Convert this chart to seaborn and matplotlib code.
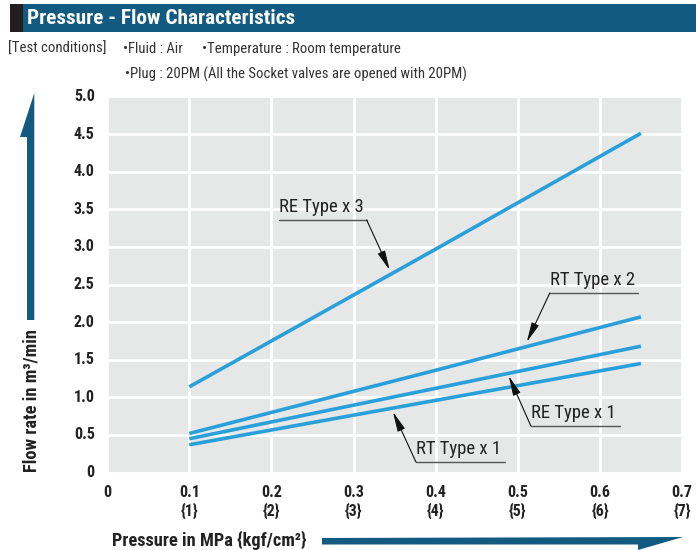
import matplotlib
matplotlib.use("Agg")
import matplotlib.pyplot as plt
from matplotlib.patches import Rectangle, Polygon
from matplotlib import font_manager as fm
import seaborn as sns
import pandas as pd

# ---- data ----
pressure = [0.1, 0.4, 0.65]
re_x3 = [1.14, 2.97, 4.51]
rt_x2 = [0.52, 1.36, 2.07]
re_x1 = [0.45, 1.12, 1.68]
rt_x1 = [0.37, 0.96, 1.45]
series_names = ["RE Type x 3", "RT Type x 2", "RE Type x 1", "RT Type x 1"]
series_values = [re_x3, rt_x2, re_x1, rt_x1]
x_ticks = [0, 0.1, 0.2, 0.3, 0.4, 0.5, 0.6, 0.7]
x_tick_labels = ["0", "0.1\n{1}", "0.2\n{2}", "0.3\n{3}", "0.4\n{4}", "0.5\n{5}", "0.6\n{6}", "0.7\n{7}"]
y_ticks = [0, 0.5, 1.0, 1.5, 2.0, 2.5, 3.0, 3.5, 4.0, 4.5, 5.0]
y_tick_labels = ["0", "0.5", "1.0", "1.5", "2.0", "2.5", "3.0", "3.5", "4.0", "4.5", "5.0"]

rows = []
for name, vals in zip(series_names, series_values):
    for x, y in zip(pressure, vals):
        rows.append({"Pressure": x, "Flow": y, "Series": name})
df = pd.DataFrame(rows)

sns.set_theme(style="white")

# pick a condensed font if one is installed
entries = fm.fontManager.ttflist
names = {f.name for f in entries}
font_kw = None
for cand in ["Liberation Sans Narrow", "Roboto Condensed", "Open Sans Condensed",
             "DejaVu Sans Condensed", "Noto Sans Condensed"]:
    if cand in names:
        font_kw = {"family": [cand, "DejaVu Sans"]}
        break
if font_kw is None:
    for base in ["DejaVu Sans", "Noto Sans", "Roboto", "Open Sans"]:
        if any(f.name == base and str(f.stretch) in ("condensed", "semi-condensed", "extra-condensed")
               for f in entries):
            font_kw = {"family": [base, "DejaVu Sans"], "stretch": "condensed"}
            break
scale = 1.0
if font_kw is None:
    font_kw = {"family": ["Liberation Sans", "DejaVu Sans"]}
    scale = 0.84

plt.rcParams['font.family'] = font_kw["family"]
if "stretch" in font_kw:
    plt.rcParams['font.stretch'] = font_kw["stretch"]

W, H = 696, 550
fig = plt.figure(figsize=(W / 100, H / 100), dpi=100)

def fx(px):
    return px / W

def fy(py):
    return 1 - py / H

L, R, T, B = 107.2, 682.0, 96.4, 472.6
ax = fig.add_axes([fx(L), fy(B), (R - L) / W, (B - T) / H])
ax.set_facecolor("#e6e7e7")

line_color = "#29a0da"
sns.lineplot(data=df, x="Pressure", y="Flow", hue="Series",
             palette=[line_color] * 4, linewidth=2.6, legend=False, ax=ax,
             solid_capstyle="butt")

tick_fs = 11.5 * (1.0 if scale == 1.0 else 0.93)
ax.set_xlim(0, 0.7)
ax.set_ylim(0, 5.0)
ax.set_xticks(x_ticks)
ax.set_xticklabels(x_tick_labels, fontweight="bold", fontsize=tick_fs, color="#222222",
                   linespacing=1.22, va="top")
ax.set_yticks(y_ticks)
ax.set_yticklabels(y_tick_labels, fontweight="bold", fontsize=tick_fs, color="#222222",
                   va="center")
ax.tick_params(axis="x", length=0, pad=9)
ax.tick_params(axis="y", length=0, pad=9)
ax.grid(True, color="white", linewidth=2.0)
ax.set_axisbelow(True)
for s in ax.spines.values():
    s.set_visible(False)
ax.set_xlabel("")
ax.set_ylabel("")

# ---- annotations ----
annots = [
    # text, underline x0, underline x1, y, arrow start x, tip x, tip y
    ("RE Type x 3", 0.209, 0.316, 3.357, 0.316, 0.344, 2.69),
    ("RT Type x 2", 0.539, 0.646, 2.387, 0.539, 0.511, 1.736),
    ("RE Type x 1", 0.516, 0.624, 0.619, 0.516, 0.489, 1.284),
    ("RT Type x 1", 0.376, 0.484, 0.141, 0.376, 0.348, 0.806),
]
for txt, ux0, ux1, uy, sx, tx, ty in annots:
    ax.plot([ux0, ux1], [uy, uy], color="#555555", linewidth=1.0)
    ax.text(ux0 + 0.0005, uy + 0.05, txt, fontsize=13.5 * scale, color="#222222",
            va="bottom", ha="left")
    ax.annotate("", xy=(tx, ty), xytext=(sx, uy),
                arrowprops=dict(arrowstyle="-|>,head_length=1.0,head_width=0.2",
                                color="#111111", lw=0.8, shrinkA=0, shrinkB=0))

# ---- title bar ----
dark_blue = "#135a80"
fig.add_artist(Rectangle((fx(10), fy(32)), (23 - 10) / W, 28 / H, transform=fig.transFigure,
                         facecolor="#231f20", edgecolor="none"))
fig.add_artist(Rectangle((fx(23), fy(32)), (W - 23) / W, 28 / H, transform=fig.transFigure,
                         facecolor=dark_blue, edgecolor="none"))
fig.text(fx(27), fy(18.5), "Pressure - Flow Characteristics", color="white",
         fontsize=15.3 * scale, fontweight="bold", va="center", ha="left")

# ---- test conditions ----
tc_color = "#333333"
tc_fs = 10.6 * scale
fig.text(fx(8), fy(49), "[Test conditions]", fontsize=tc_fs, color=tc_color, va="center")
fig.text(fx(123), fy(49), "\u2022Fluid : Air", fontsize=tc_fs, color=tc_color, va="center")
fig.text(fx(202), fy(49), "\u2022Temperature : Room temperature", fontsize=tc_fs, color=tc_color, va="center")
fig.text(fx(125), fy(74), "\u2022Plug : 20PM (All the Socket valves are opened with 20PM)",
         fontsize=tc_fs, color=tc_color, va="center")

# ---- axis labels with arrows ----
lab_fs = 13.2 * scale
fig.text(fx(31), fy(401), "Flow rate in m\u00b3/min", rotation=90, fontsize=lab_fs,
         fontweight="bold", color="#222222", va="center", ha="center")
fig.add_artist(Polygon([(fx(27), fy(320)), (fx(34.3), fy(320)), (fx(34.3), fy(93)),
                        (fx(20), fy(137)), (fx(27), fy(137))],
                       closed=True, transform=fig.transFigure, facecolor=dark_blue, edgecolor="none"))

fig.text(fx(112), fy(540), "Pressure in MPa {kgf/cm\u00b2}", fontsize=lab_fs,
         fontweight="bold", color="#222222", va="center", ha="left")
fig.add_artist(Polygon([(fx(322), fy(538)), (fx(683), fy(537)), (fx(638), fy(550)),
                        (fx(638), fy(544.5)), (fx(322), fy(544.5))],
                       closed=True, transform=fig.transFigure, facecolor=dark_blue, edgecolor="none"))

fig.savefig("out.png", dpi=100)
